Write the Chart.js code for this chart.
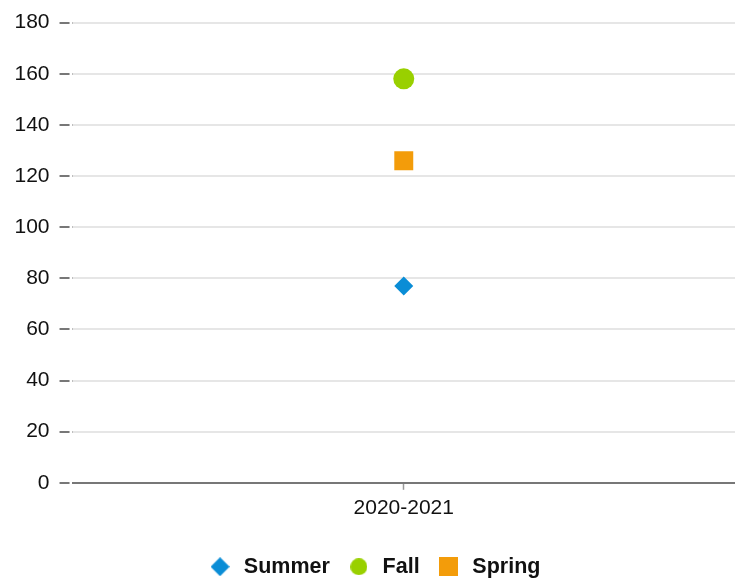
<!DOCTYPE html>
<html>
<head>
<meta charset="utf-8">
<script src="https://cdn.jsdelivr.net/npm/chart.js@4"></script>
<style>
  html, body { margin: 0; padding: 0; background: #fff; }
  #wrap { width: 735px; height: 580px; }
</style>
</head>
<body>
<div id="wrap"><canvas id="chart_seasons"></canvas></div>
<script>
const categories = ["2020-2021"];
const seriesNames = ["Summer", "Fall", "Spring"];
const summerValues = [77];
const fallValues = [158];
const springValues = [126];
const yTicks = { min: 0, max: 180, step: 20 };

const colorSummer = '#0a8dd6';
const colorFall = '#99d000';
const colorSpring = '#f39c0a';

Chart.defaults.font.family = "'Liberation Sans', Arial, sans-serif";
Chart.defaults.color = '#111';

// small marker pictures for the legend, so each shape has its own size
function makeMarker(shape, size, color) {
  let c = document.createElement('canvas');
  c.width = size;
  c.height = size;
  let ctx = c.getContext('2d');
  let h = size / 2;
  ctx.fillStyle = color;
  ctx.beginPath();
  if (shape == 'diamond') {
    ctx.moveTo(h, 0);
    ctx.lineTo(size, h);
    ctx.lineTo(h, size);
    ctx.lineTo(0, h);
    ctx.closePath();
  } else if (shape == 'circle') {
    ctx.arc(h, h, h, 0, Math.PI * 2);
  } else {
    ctx.rect(0, 0, size, size);
  }
  ctx.fill();
  return c;
}

const legendMarkers = [
  makeMarker('diamond', 19, colorSummer),
  makeMarker('circle', 17, colorFall),
  makeMarker('square', 19, colorSpring)
];

new Chart(document.getElementById("chart_seasons"), {
  type: 'line',
  data: {
    labels: categories,
    datasets: [{
        label: seriesNames[0],
        data: summerValues,
        showLine: false,
        pointStyle: 'rectRot',
        pointRadius: 9.5,
        pointHoverRadius: 9.5,
        borderWidth: 0,
        borderColor: colorSummer,
        backgroundColor: colorSummer
      },{
        label: seriesNames[1],
        data: fallValues,
        showLine: false,
        pointStyle: 'circle',
        pointRadius: 10.5,
        pointHoverRadius: 10.5,
        borderWidth: 0,
        borderColor: colorFall,
        backgroundColor: colorFall
      },{
        label: seriesNames[2],
        data: springValues,
        showLine: false,
        pointStyle: 'rect',
        pointRadius: 13.4,
        pointHoverRadius: 13.4,
        borderWidth: 0,
        borderColor: colorSpring,
        backgroundColor: colorSpring
      }]
  },
  options: {
    responsive: true,
    maintainAspectRatio: false,
    animation: false,
    layout: { autoPadding: false, padding: { top: 7, right: -6, left: 6.5, bottom: -7.5 } },
    plugins: {
      tooltip: { enabled: false },
      legend: {
        position: 'bottom',
        labels: {
          usePointStyle: true,
          pointStyleWidth: 26,
          boxHeight: 20,
          padding: 16,
          color: '#111',
          font: { size: 21.5, weight: 'bold' },
          generateLabels: function(chart) {
            let items = Chart.defaults.plugins.legend.labels.generateLabels(chart);
            items.forEach(function(item, i) { item.pointStyle = legendMarkers[i]; });
            return items;
          }
        }
      }
    },
    scales: {
      x: {
        offset: true,
        grid: {
          display: true,
          drawOnChartArea: false,
          drawTicks: true,
          tickLength: 7,
          tickColor: '#999',
          tickWidth: 1.5
        },
        border: { color: '#777', width: 2 },
        ticks: { color: '#111', font: { size: 21 }, padding: 6 },
        afterFit: function(scale) {
          scale.paddingLeft = 0;
          scale.paddingRight = 0;
          scale.height += 13;
        }
      },
      y: {
        min: yTicks.min,
        max: yTicks.max,
        ticks: { stepSize: yTicks.step, color: '#111', font: { size: 21 }, padding: 10 },
        border: { display: false },
        grid: {
          color: function(ctx) { return ctx.tick && ctx.tick.value === 0 ? '#777' : '#e6e6e6'; },
          lineWidth: 2,
          tickColor: '#777',
          tickLength: 13,
          tickBorderDash: [10, 3]
        },
        afterFit: function(scale) {
          scale.width -= 2;
        }
      }
    }
  }
});
</script>
</body>
</html>
